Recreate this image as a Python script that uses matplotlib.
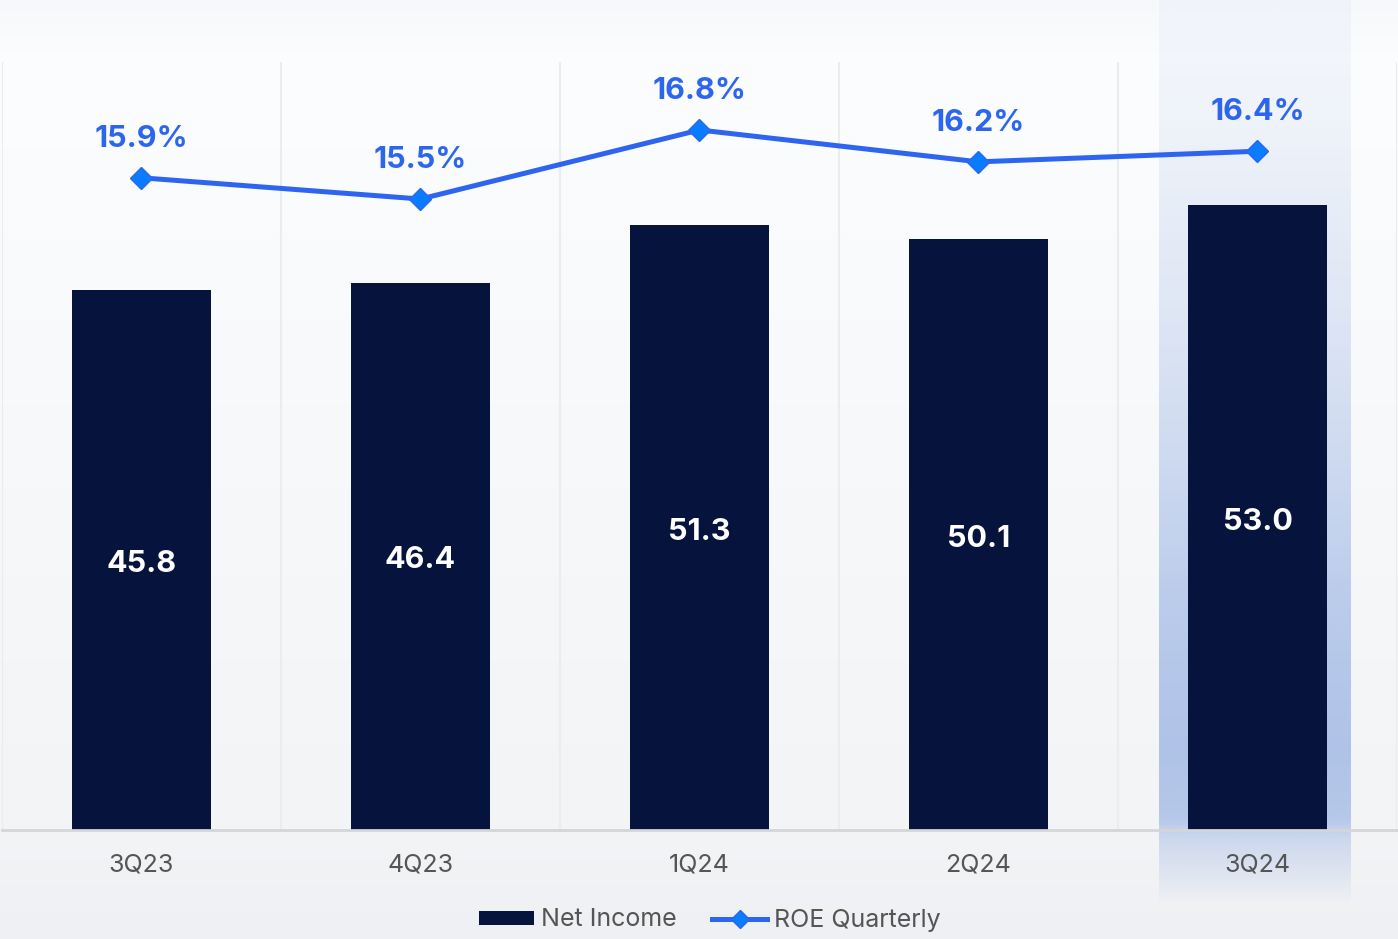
import numpy as np
import matplotlib.pyplot as plt
from matplotlib.colors import to_rgb
from matplotlib.lines import Line2D
from matplotlib.patches import Patch

plt.rcParams['font.family'] = ['Inter', 'DejaVu Sans']

quarters = ["3Q23", "4Q23", "1Q24", "2Q24", "3Q24"]
net_income = [45.8, 46.4, 51.3, 50.1, 53.0]
roe = [15.9, 15.5, 16.8, 16.2, 16.4]
highlight = "3Q24"

W, H = 1398, 939
fig = plt.figure(figsize=(W / 100, H / 100), dpi=100)

# page background, soft vertical gradient
bg = fig.add_axes([0, 0, 1, 1], zorder=-10)
stops_y = [0, 62, 830, 939]
stops_c = ['#f7f8fb', '#fcfdfe', '#f3f4f6', '#eef0f3']
ys = np.arange(H)
grad = np.zeros((H, 1, 3))
for k in range(3):
    grad[:, 0, k] = np.interp(ys, stops_y, [to_rgb(c)[k] for c in stops_c])
bg.imshow(grad, aspect='auto', extent=(0, W, H, 0))
bg.set_xlim(0, W)
bg.set_ylim(H, 0)
bg.axis('off')

ax = fig.add_axes([2 / W, (H - 830) / H, 1395 / W, (830 - 62) / H])
ax.patch.set_alpha(0)
x = np.arange(len(quarters))
ymax = 65.1
ax.set_xlim(-0.5, len(quarters) - 0.5)

# highlight band behind the latest quarter
hi = quarters.index(highlight)
px_per_unit = (830 - 62) / ymax
band_top = ymax + 62 / px_per_unit
band_bot = -(905 - 830) / px_per_unit
py = np.linspace(0, 905, 400)
alpha = np.interp(py, [0, 100, 300, 450, 600, 750, 820, 840, 880, 905],
                  [0.04, 0.07, 0.16, 0.26, 0.38, 0.45, 0.40, 0.25, 0.10, 0.0])
rgba = np.zeros((len(py), 1, 4))
rgba[:, 0, :3] = to_rgb('#5b86d6')
rgba[:, 0, 3] = alpha
im = ax.imshow(rgba, aspect='auto', extent=(hi - 0.354, hi + 0.331, band_bot, band_top),
               zorder=1, interpolation='bilinear')
im.set_clip_on(False)

for b in np.arange(-0.5, len(quarters), 1.0):
    ax.axvline(b, color='#ebecef', lw=1.5, zorder=0)

ax.bar(x, net_income, width=0.5, color='#05133d', zorder=3)
for xi, v in zip(x, net_income):
    ax.annotate(f"{v:.1f}", (xi, v / 2), xytext=(0, -3), textcoords='offset points',
                ha='center', va='center', color='white',
                fontsize=22, fontweight='bold', zorder=5)

ax.axhline(0, color='#d4d5d8', lw=2, zorder=4, clip_on=False)
ax.set_ylim(0, ymax)
ax.set_xticks(x)
ax.set_xticklabels(quarters, fontsize=18, color='#555555')
ax.tick_params(axis='x', length=0, pad=17)
ax.set_yticks([])
for s in ax.spines.values():
    s.set_visible(False)

ax2 = ax.twinx()
ax2.plot(x, roe, color='#2d64f0', lw=3.6, marker='D', markersize=11.5,
         markerfacecolor='#0a7cff', markeredgecolor='#2d64f0', markeredgewidth=1, zorder=6)
for xi, v in zip(x, roe):
    ax2.annotate(f"{v:.1f}%", (xi, v), xytext=(0, 28), textcoords='offset points',
                 ha='center', va='center', color='#2d66ee', fontsize=22, fontweight='bold')
ax2.set_ylim(3.62, 18.08)
ax2.set_yticks([])
for s in ax2.spines.values():
    s.set_visible(False)

handles = [Patch(facecolor='#05133d'),
           Line2D([], [], color='#2d64f0', lw=3.6, marker='D', markersize=9,
                  markerfacecolor='#0a7cff', markeredgecolor='#2d64f0')]
fig.legend(handles, ['Net Income', 'ROE Quarterly'], loc='center',
           bbox_to_anchor=(710 / W, (H - 920) / H), ncol=2, frameon=False,
           fontsize=18, labelcolor='#555555', handlelength=2.2, handleheight=0.5,
           handletextpad=0.3, columnspacing=1.4)

fig.savefig('out.png', dpi=100)
